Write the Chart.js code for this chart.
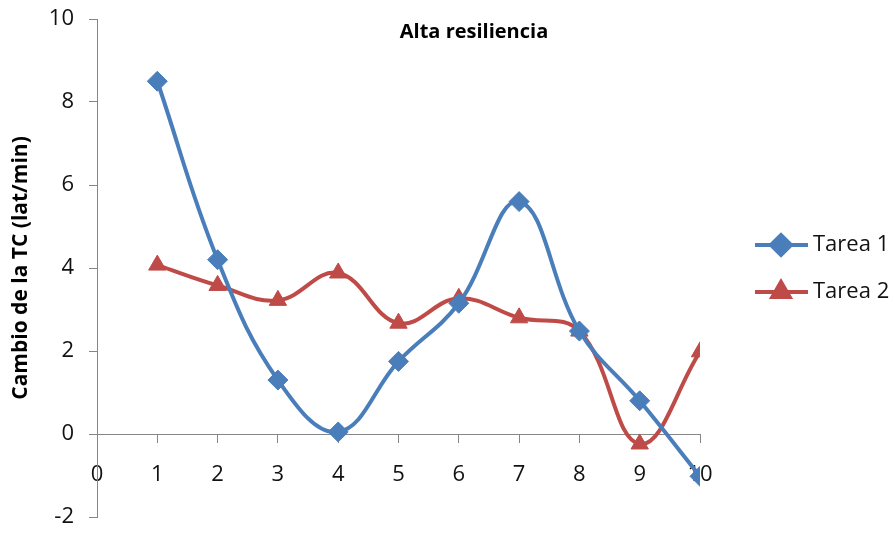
<!DOCTYPE html>
<html>
<head>
<meta charset="utf-8">
<script src="https://cdn.jsdelivr.net/npm/chart.js@4/dist/chart.umd.min.js"></script>
<style>
  html, body { margin: 0; padding: 0; background: #fff; }
  #wrap { width: 895px; height: 533px; position: relative; }
</style>
</head>
<body>
<div id="wrap"><canvas id="chart" width="895" height="533"></canvas></div>
<script>
const chartTitle = 'Alta resiliencia';
const yAxisTitle = 'Cambio de la TC (lat/min)';
const xValues = [1, 2, 3, 4, 5, 6, 7, 8, 9, 10];
const tarea1 = [8.5, 4.2, 1.3, 0.05, 1.75, 3.15, 5.6, 2.48, 0.8, -1.02];
const tarea2 = [4.07, 3.58, 3.22, 3.88, 2.67, 3.27, 2.8, 2.48, -0.24, 1.98];
const seriesNames = ['Tarea 1', 'Tarea 2'];

const BLUE = '#4A7EBB';
const RED = '#BE4B48';
const AXIS = '#868686';
const FONT = "'Open Sans', 'DejaVu Sans', sans-serif";

const toPoints = (values) => values.map((y, i) => ({ x: xValues[i], y }));

// titulo y leyenda dibujados a mano (linea + marcador como en Excel)
const extras = {
    id: 'extras',
    afterDraw(chart) {
        const { ctx, chartArea } = chart;
        ctx.save();
        ctx.fillStyle = '#000';
        ctx.font = `bold 20px ${FONT}`;
        ctx.textAlign = 'center';
        ctx.textBaseline = 'middle';
        ctx.fillText(chartTitle, 474, 32);

        const lx = chartArea.right + 55;
        chart.data.datasets.forEach((ds, i) => {
            const y = 245 + i * 47;
            ctx.strokeStyle = ds.borderColor;
            ctx.lineWidth = 4;
            ctx.beginPath();
            ctx.moveTo(lx, y);
            ctx.lineTo(lx + 53, y);
            ctx.stroke();
            Chart.helpers.drawPoint(ctx, {
                pointStyle: ds.pointStyle,
                radius: ds.pointRadius,
                borderWidth: 1,
                rotation: 0
            }, lx + 26, y);
            ctx.fillStyle = ds.borderColor;
            ctx.fill();
            ctx.fillStyle = '#111';
            ctx.font = `22px ${FONT}`;
            ctx.textAlign = 'left';
            ctx.fillText(ds.label, lx + 58, y);
        });
        ctx.restore();
    }
};

new Chart(document.getElementById('chart'), {
    type: 'line',
    data: {
        datasets: [
            {
                label: seriesNames[0],
                data: toPoints(tarea1),
                borderColor: BLUE,
                backgroundColor: BLUE,
                borderWidth: 4,
                tension: 0.4,
                pointStyle: 'rectRot',
                pointRadius: 10,
                pointBorderWidth: 1,
                fill: false
            },
            {
                label: seriesNames[1],
                data: toPoints(tarea2),
                borderColor: RED,
                backgroundColor: RED,
                borderWidth: 4,
                tension: 0.4,
                pointStyle: 'triangle',
                pointRadius: 10,
                pointBorderWidth: 1,
                fill: false
            }
        ]
    },
    options: {
        responsive: false,
        animation: false,
        layout: { padding: { top: 19, right: 195, bottom: 16, left: 0 } },
        scales: {
            x: {
                type: 'linear',
                position: { y: 0 },
                min: 0,
                max: 10,
                afterFit: (scale) => { scale.paddingLeft = 0; scale.paddingRight = 0; },
                ticks: {
                    stepSize: 1,
                    color: '#111',
                    font: { family: FONT, size: 22 },
                    padding: 20,
                    maxRotation: 0
                },
                grid: { drawOnChartArea: false, color: AXIS, tickLength: 8 },
                border: { color: AXIS, width: 1 }
            },
            y: {
                min: -2,
                max: 10,
                afterFit: (scale) => {
                    scale.width = 97;
                    scale.paddingTop = 0;
                    scale.paddingBottom = 0;
                },
                ticks: {
                    stepSize: 2,
                    color: '#111',
                    font: { family: FONT, size: 22 },
                    padding: 15
                },
                grid: { drawOnChartArea: false, color: AXIS, tickLength: 8 },
                border: { color: AXIS, width: 1 },
                title: {
                    display: true,
                    text: yAxisTitle,
                    color: '#000',
                    font: { family: FONT, size: 21, weight: 'bold' },
                    padding: { top: 8, bottom: 0 }
                }
            }
        },
        plugins: {
            legend: { display: false },
            title: { display: false },
            tooltip: { enabled: false }
        }
    },
    plugins: [extras]
});
</script>
</body>
</html>
